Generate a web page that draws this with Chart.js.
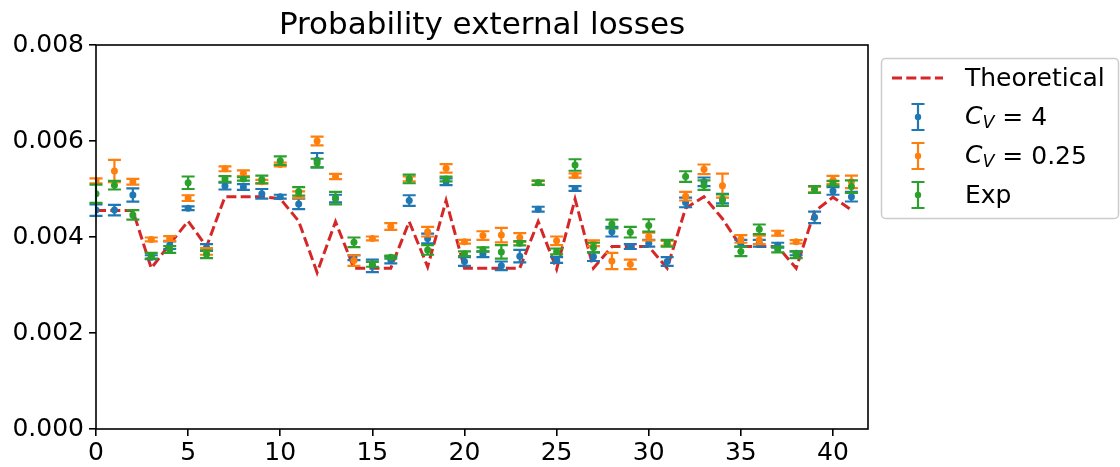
<!DOCTYPE html>
<html>
<head>
<meta charset="utf-8">
<script src="https://cdn.jsdelivr.net/npm/chart.js@4.4.1/dist/chart.umd.min.js"></script>
<style>
  html, body { margin: 0; padding: 0; background: #fff; }
  canvas { display: block; }
</style>
</head>
<body>
<canvas id="lossChart" width="1120" height="467"></canvas>
<script>
/* ── Data ────────────────────────────────────────────────────── */
var xIdx = [0, 1, 2, 3, 4, 5, 6, 7, 8, 9, 10, 11, 12, 13, 14, 15, 16, 17, 18, 19, 20,
            21, 22, 23, 24, 25, 26, 27, 28, 29, 30, 31, 32, 33, 34, 35, 36, 37, 38, 39, 40, 41];

var theory = [0.00455, 0.00455, 0.00455, 0.00335, 0.00385, 0.00433, 0.00380, 0.00484, 0.00484, 0.00484,
              0.00480, 0.00433, 0.00326, 0.00432, 0.00335, 0.00335, 0.00335, 0.00432, 0.00338, 0.00476,
              0.00335, 0.00335, 0.00335, 0.00335, 0.00432, 0.00333, 0.00479, 0.00335, 0.00380, 0.00380,
              0.00380, 0.00335, 0.00460, 0.00484, 0.00438, 0.00380, 0.00380, 0.00380, 0.00335, 0.00453,
              0.00483, 0.00456];

var cv4    = [0.00456, 0.00456, 0.004875, 0.00358, 0.00383, 0.00460, 0.00378, 0.00506, 0.00504, 0.00490,
              0.00484, 0.00469, 0.00560, 0.00480, 0.00357, 0.00340, 0.00352, 0.00476, 0.00397, 0.00515,
              0.00349, 0.00364, 0.00340, 0.00360, 0.00458, 0.00352, 0.00501, 0.00359, 0.00411, 0.00380,
              0.00387, 0.00349, 0.00472, 0.00515, 0.00480, 0.00387, 0.00387, 0.00383, 0.00366, 0.00441,
              0.00496, 0.00484];
var cv4Err = [0.00012, 0.00011, 0.00014, 0.00004, 0.00008, 0.00004, 0.00007, 0.00007, 0.00006, 0.00010,
              0.00004, 0.00011, 0.00015, 0.00008, 0.00005, 0.00013, 0.00007, 0.00011, 0.00010, 0.00007,
              0.00009, 0.00006, 0.00009, 0.00013, 0.00005, 0.00006, 0.00005, 0.00009, 0.00010, 0.00005,
              0.00007, 0.00009, 0.00010, 0.00009, 0.00010, 0.00007, 0.00007, 0.00005, 0.00004, 0.00012,
              0.00008, 0.00010];

var cv025    = [0.00517, 0.005375, 0.00515, 0.00395, 0.00397, 0.00481, 0.00370, 0.00542, 0.00533, 0.00515,
                0.00551, 0.00488, 0.00600, 0.00526, 0.00351, 0.00397, 0.00422, 0.00521, 0.00411, 0.00543,
                0.00390, 0.00403, 0.00404, 0.00399, 0.00513, 0.00392, 0.00528, 0.00387, 0.00350, 0.00343,
                0.00401, 0.00387, 0.00485, 0.00541, 0.00507, 0.00396, 0.00394, 0.00408, 0.00390, 0.00499,
                0.00519, 0.00515];
var cv025Err = [0.00005, 0.00023, 0.00006, 0.00004, 0.00005, 0.00006, 0.00007, 0.00005, 0.00006, 0.00004,
                0.00004, 0.00007, 0.00009, 0.000055, 0.00011, 0.00004, 0.00007, 0.00005, 0.00010, 0.00009,
                0.00004, 0.00009, 0.00015, 0.00009, 0.00004, 0.00009, 0.000045, 0.00006, 0.00017, 0.00010,
                0.00008, 0.00005, 0.00009, 0.00010, 0.00025, 0.00008, 0.00009, 0.00005, 0.000035, 0.00006,
                0.000085, 0.00013];

var expo    = [0.00490, 0.00508, 0.00446, 0.00361, 0.00374, 0.00513, 0.00364, 0.00521, 0.00521, 0.00520,
               0.00559, 0.00495, 0.00554, 0.00481, 0.00389, 0.00343, 0.00358, 0.00521, 0.00373, 0.00521,
               0.00365, 0.00374, 0.00369, 0.00387, 0.00513, 0.00370, 0.00550, 0.00378, 0.00427, 0.00410,
               0.00424, 0.00387, 0.00526, 0.00508, 0.00477, 0.00370, 0.00416, 0.00374, 0.00363, 0.00499,
               0.00512, 0.00505];
var expoErr = [0.00019, 0.00009, 0.00010, 0.00006, 0.00007, 0.00013, 0.00008, 0.00006, 0.000035, 0.00008,
               0.00009, 0.00009, 0.00009, 0.00013, 0.00010, 0.00005, 0.00003, 0.00009, 0.00010, 0.00005,
               0.00005, 0.000045, 0.00014, 0.000045, 0.000045, 0.00006, 0.00012, 0.00010, 0.00009, 0.00011,
               0.00013, 0.00007, 0.00011, 0.00010, 0.00012, 0.00010, 0.00010, 0.00006, 0.00007, 0.00007,
               0.00005, 0.00013];

var xTicks = [0, 5, 10, 15, 20, 25, 30, 35, 40];
var yTicks = [0, 0.002, 0.004, 0.006, 0.008];

var BLUE = '#1f77b4', ORANGE = '#ff7f0e', GREEN = '#2ca02c', RED = '#d62728';
var FONT = "'DejaVu Sans', 'Liberation Sans', sans-serif";

function toPoints(vals) {
  return xIdx.map(function(x, i) { return { x: x, y: vals[i] }; });
}

/* ── Error bars, drawn just before each dataset's dots ────────── */
var errorBarPlugin = {
  id: 'errorBars',
  beforeDatasetDraw: function(chart, args) {
    var ds = chart.data.datasets[args.index];
    if (!ds.errors) return;
    var xs = chart.scales.x, ys = chart.scales.y, ctx = chart.ctx;
    ctx.save();
    ctx.strokeStyle = ds.borderColor;
    ctx.lineWidth = 2.2;
    ds.data.forEach(function(p, i) {
      var px = xs.getPixelForValue(p.x);
      var top = ys.getPixelForValue(p.y + ds.errors[i]);
      var bot = ys.getPixelForValue(p.y - ds.errors[i]);
      ctx.beginPath();
      ctx.moveTo(px, top); ctx.lineTo(px, bot);
      ctx.moveTo(px - 6.5, top); ctx.lineTo(px + 6.5, top);
      ctx.moveTo(px - 6.5, bot); ctx.lineTo(px + 6.5, bot);
      ctx.stroke();
    });
    ctx.restore();
  }
};

/* ── Frame, title and matplotlib-like legend ─────────────────── */
var decorPlugin = {
  id: 'decor',
  afterDraw: function(chart) {
    var ctx = chart.ctx, a = chart.chartArea;
    ctx.save();
    ctx.strokeStyle = '#000';
    ctx.lineWidth = 1.6;
    ctx.strokeRect(a.left, a.top, a.right - a.left, a.bottom - a.top);

    ctx.fillStyle = '#000';
    ctx.font = '31px ' + FONT;
    ctx.textAlign = 'center';
    ctx.textBaseline = 'alphabetic';
    ctx.fillText('Probability external losses', (a.left + a.right) / 2, 34);

    // legend box
    ctx.beginPath();
    ctx.roundRect(881.5, 58.5, 237, 160, 4);
    ctx.fillStyle = 'rgba(255,255,255,0.8)';
    ctx.fill();
    ctx.strokeStyle = '#cccccc';
    ctx.lineWidth = 1.5;
    ctx.stroke();

    var tx = 965;
    ctx.textAlign = 'left';
    ctx.textBaseline = 'middle';

    // Theoretical
    ctx.beginPath();
    ctx.setLineDash([10, 4.3]);
    ctx.strokeStyle = RED;
    ctx.lineWidth = 3;
    ctx.moveTo(892, 78); ctx.lineTo(943, 78);
    ctx.stroke();
    ctx.setLineDash([]);
    ctx.fillStyle = '#000';
    ctx.font = '25px ' + FONT;
    ctx.fillText('Theoretical', tx, 79);

    var entries = [
      { y: 117, color: BLUE, sub: true, rest: ' = 4' },
      { y: 156, color: ORANGE, sub: true, rest: ' = 0.25' },
      { y: 195, color: GREEN, sub: false, rest: 'Exp' }
    ];
    entries.forEach(function(e) {
      ctx.strokeStyle = e.color;
      ctx.lineWidth = 2.2;
      ctx.beginPath();
      ctx.moveTo(918, e.y - 13); ctx.lineTo(918, e.y + 13);
      ctx.moveTo(911.5, e.y - 13); ctx.lineTo(924.5, e.y - 13);
      ctx.moveTo(911.5, e.y + 13); ctx.lineTo(924.5, e.y + 13);
      ctx.stroke();
      ctx.fillStyle = e.color;
      ctx.beginPath();
      ctx.arc(918, e.y, 3.2, 0, Math.PI * 2);
      ctx.fill();

      ctx.fillStyle = '#000';
      var x = tx;
      if (e.sub) {
        ctx.font = 'italic 25px ' + FONT;
        ctx.fillText('C', x, e.y);
        x += ctx.measureText('C').width;
        ctx.font = 'italic 17.5px ' + FONT;
        ctx.fillText('V', x, e.y + 6);
        x += ctx.measureText('V').width;
      }
      ctx.font = '25px ' + FONT;
      ctx.fillText(e.rest, x, e.y + 1);
    });
    ctx.restore();
  }
};

Chart.defaults.font.family = FONT;
Chart.defaults.font.size = 25;
Chart.defaults.color = '#000';

var errDataset = function(label, vals, errs, color, order) {
  return {
    label: label, data: toPoints(vals), errors: errs,
    borderColor: color, backgroundColor: color,
    pointRadius: 3.5, pointBorderWidth: 0, pointHoverRadius: 3.5,
    showLine: false, order: order
  };
};

new Chart(document.getElementById('lossChart'), {
  type: 'scatter',
  data: {
    datasets: [
      { label: 'Theoretical', data: toPoints(theory), showLine: true, fill: false,
        borderColor: RED, borderWidth: 3, borderDash: [10, 4.3], pointRadius: 0,
        tension: 0, order: 4 },
      errDataset('C_V = 4', cv4, cv4Err, BLUE, 3),
      errDataset('C_V = 0.25', cv025, cv025Err, ORANGE, 2),
      errDataset('Exp', expo, expoErr, GREEN, 1)
    ]
  },
  options: {
    responsive: false, animation: false, devicePixelRatio: 1,
    layout: { padding: { top: 45, right: 252, left: 0, bottom: 0 } },
    plugins: { legend: { display: false }, tooltip: { enabled: false }, title: { display: false } },
    scales: {
      x: {
        type: 'linear', min: 0, max: 41.9,
        afterBuildTicks: function(axis) { axis.ticks = xTicks.map(function(v) { return { value: v }; }); },
        afterFit: function(axis) { axis.height = 38; },
        grid: { drawOnChartArea: false, drawTicks: true, tickLength: 7, lineWidth: 1.6, color: '#000' },
        border: { display: false },
        ticks: { padding: 2, maxRotation: 0, autoSkip: false }
      },
      y: {
        min: 0, max: 0.008,
        afterBuildTicks: function(axis) { axis.ticks = yTicks.map(function(v) { return { value: v }; }); },
        afterFit: function(axis) { axis.width = 96; },
        grid: { drawOnChartArea: false, drawTicks: true, tickLength: 7, lineWidth: 1.6, color: '#000' },
        border: { display: false },
        ticks: { padding: 5, callback: function(v) { return v.toFixed(3); } }
      }
    }
  },
  plugins: [errorBarPlugin, decorPlugin]
});
</script>
</body>
</html>
